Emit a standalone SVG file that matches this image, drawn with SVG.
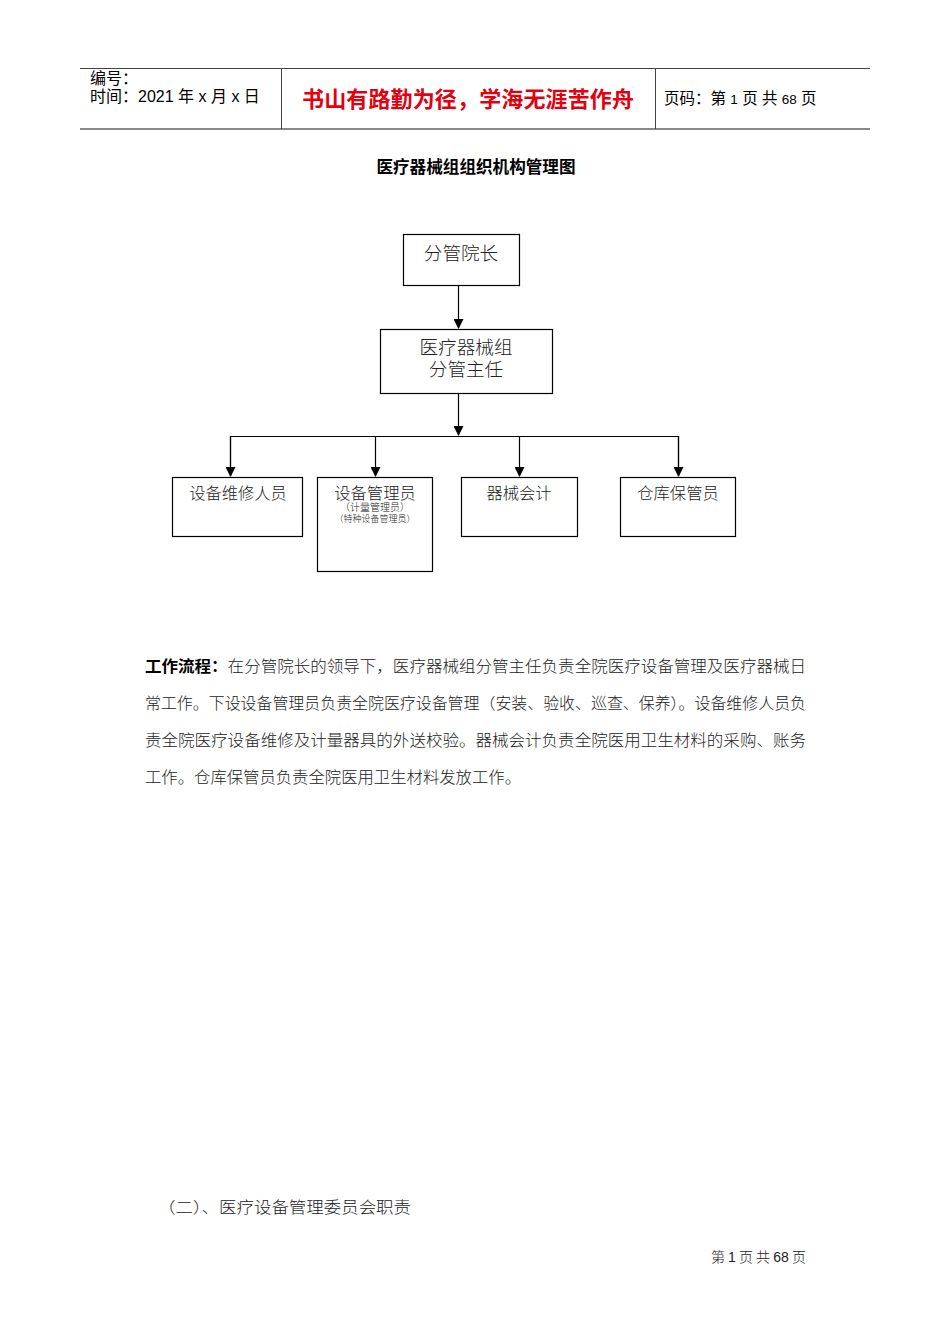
<svg xmlns="http://www.w3.org/2000/svg" width="950" height="1344" viewBox="0 0 950 1344">
<style>
.t{font-family:"Liberation Sans","Noto Sans CJK SC",sans-serif;fill:#000}
.box{fill:#fff;stroke:#000;stroke-width:1.2}
.ln{stroke:#000;stroke-width:1.2;fill:none}
.node{font-family:"Noto Sans CJK SC",sans-serif;fill:#222;font-weight:300;text-anchor:middle}
</style>
<defs>
<marker id="ad" markerWidth="10" markerHeight="10" refX="9" refY="5" orient="auto" markerUnits="userSpaceOnUse" viewBox="0 0 10 10">
<path d="M0,0 L10,5 L0,10 Z" fill="#000"/>
</marker>
</defs>
<rect width="950" height="1344" fill="#fff"/>
<g id="header">
<line x1="80" y1="68.5" x2="870" y2="68.5" stroke="#444" stroke-width="1"/>
<line x1="80" y1="129" x2="870" y2="129" stroke="#888" stroke-width="2"/>
<line x1="281.5" y1="68" x2="281.5" y2="129" stroke="#444" stroke-width="1"/>
<line x1="655.5" y1="68" x2="655.5" y2="129" stroke="#444" stroke-width="1"/>
<text class="t" x="90" y="84" font-size="16">编号：</text>
<text class="t" x="90" y="102" font-size="16">时间：2021 年 x 月 x 日</text>
<text class="t" x="302" y="107" font-size="22" font-weight="bold" style="fill:#e3000f" textLength="332">书山有路勤为径，学海无涯苦作舟</text>
<text class="t" x="664" y="104" font-size="15.5">页码：第 <tspan font-size="13.5">1</tspan> 页 共 <tspan font-size="13.5">68</tspan> 页</text>
</g>
<text class="t" x="476" y="173" font-size="16.6" font-weight="bold" text-anchor="middle">医疗器械组组织机构管理图</text>
<g id="connectors">
<line class="ln" x1="458.5" y1="285" x2="458.5" y2="328" marker-end="url(#ad)"/>
<line class="ln" x1="458.5" y1="393" x2="458.5" y2="435" marker-end="url(#ad)"/>
<polyline class="ln" points="230.5,476 230.5,436.5 678.5,436.5 678.5,476"/>
<line class="ln" x1="230.5" y1="436" x2="230.5" y2="476" marker-end="url(#ad)"/>
<line class="ln" x1="375.5" y1="436" x2="375.5" y2="476" marker-end="url(#ad)"/>
<line class="ln" x1="519.5" y1="436" x2="519.5" y2="476" marker-end="url(#ad)"/>
<line class="ln" x1="678.5" y1="436" x2="678.5" y2="476" marker-end="url(#ad)"/>
</g>
<g id="n1"><rect class="box" x="403.5" y="234.5" width="116" height="51"/><text class="node" x="461" y="260" font-size="18.6">分管院长</text></g>
<g id="n2"><rect class="box" x="380.5" y="329.5" width="172" height="64"/><text class="node" x="466" y="354" font-size="18.6">医疗器械组</text><text class="node" x="466" y="376" font-size="18.6">分管主任</text></g>
<g id="n3"><rect class="box" x="172.5" y="477.5" width="130" height="59"/><text class="node" x="238" y="499" font-size="16.3">设备维修人员</text></g>
<g id="n4"><rect class="box" x="317.5" y="477.5" width="115" height="94"/><text class="node" x="375" y="499" font-size="16.3">设备管理员</text><text class="node" x="375" y="511" font-size="10">（计量管理员）</text><text class="node" x="375" y="522" font-size="9">（特种设备管理员）</text></g>
<g id="n5"><rect class="box" x="461.5" y="477.5" width="116" height="59"/><text class="node" x="519" y="499" font-size="16.3">器械会计</text></g>
<g id="n6"><rect class="box" x="620.5" y="477.5" width="115" height="59"/><text class="node" x="678" y="499" font-size="16.3">仓库保管员</text></g>
<g id="body" font-family="'Noto Sans CJK SC',sans-serif" font-size="15.5" fill="#222" font-weight="300">
<text x="145" y="672" textLength="661" lengthAdjust="spacingAndGlyphs"><tspan font-weight="bold" fill="#000">工作流程：</tspan>在分管院长的领导下，医疗器械组分管主任负责全院医疗设备管理及医疗器械日</text>
<text x="145" y="709" textLength="661" lengthAdjust="spacingAndGlyphs">常工作。下设设备管理员负责全院医疗设备管理（安装、验收、巡查、保养）。设备维修人员负</text>
<text x="145" y="746" textLength="661" lengthAdjust="spacingAndGlyphs">责全院医疗设备维修及计量器具的外送校验。器械会计负责全院医用卫生材料的采购、账务</text>
<text x="145" y="783" textLength="376" lengthAdjust="spacingAndGlyphs">工作。仓库保管员负责全院医用卫生材料发放工作。</text>
<text x="158" y="1213" textLength="253" lengthAdjust="spacingAndGlyphs">（二）、医疗设备管理委员会职责</text>
</g>
<text x="711" y="1262" font-family="'Noto Sans CJK SC',sans-serif" font-size="14" fill="#222" font-weight="300">第 <tspan font-family="'Liberation Sans',sans-serif" font-weight="normal">1</tspan> 页 共 <tspan font-family="'Liberation Sans',sans-serif" font-weight="normal">68</tspan> 页</text>
</svg>
